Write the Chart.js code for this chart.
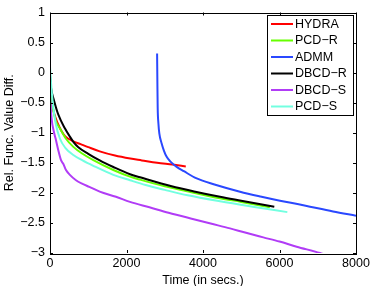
<!DOCTYPE html>
<html><head><meta charset="utf-8">
<script src="https://cdn.jsdelivr.net/npm/chart.js@4/dist/chart.umd.min.js"></script>
<style>html,body{margin:0;padding:0;background:#fff}#wrap{width:374px;height:286px}</style>
</head><body><div id="wrap"><canvas id="c" width="374" height="286"></canvas></div>
<script>
// ---- data (time in secs, relative function value difference) ----
const seriesNames = ["HYDRA", "PCD\u2212R", "ADMM", "DBCD\u2212R", "DBCD\u2212S", "PCD\u2212S"];
const seriesColors = ["#ff0000", "#66ff00", "#2a48ff", "#000000", "#b13cf6", "#72ffe0"];

const hydraT = [0, 50, 100, 200, 300, 400, 600, 800, 1000, 1300, 1700, 2100, 2400, 2800, 3200, 3550];
const hydraV = [-0.15, -0.5, -0.66, -0.84, -0.97, -1.06, -1.14, -1.19, -1.24, -1.31, -1.38, -1.43, -1.46, -1.50, -1.53, -1.56];

const pcdrT = [0, 30, 80, 150, 261, 418, 610, 850, 1133, 1656, 2091, 2353, 3000, 3500, 4444, 5000, 5750];
const pcdrV = [-0.1, -0.35, -0.6, -0.8, -0.93, -1.10, -1.235, -1.35, -1.456, -1.62, -1.73, -1.78, -1.89, -1.96, -2.09, -2.15, -2.24];

const admmT = [2800, 2808, 2815, 2835, 2858, 2919, 2980, 3050, 3150, 3312, 3500, 3835, 4300, 4967, 5500, 6013, 6500, 6797, 7400, 8000];
const admmV = [0.32, -0.2, -0.57, -0.85, -1.01, -1.18, -1.30, -1.40, -1.48, -1.568, -1.64, -1.76, -1.86, -1.98, -2.06, -2.13, -2.19, -2.23, -2.31, -2.38];

const dbcdrT = [0, 26, 100, 218, 392, 505, 610, 741, 1000, 1300, 1656, 2091, 2353, 3181, 3800, 4444, 5000, 5864];
const dbcdrV = [-0.05, -0.25, -0.45, -0.7, -0.93, -1.05, -1.15, -1.24, -1.35, -1.46, -1.57, -1.69, -1.74, -1.89, -1.98, -2.065, -2.13, -2.23];

const dbcdsT = [0, 40, 100, 157, 220, 288, 350, 418, 520, 680, 850, 1028, 1300, 1725, 2091, 2600, 3100, 3704, 4200, 4706, 5100, 5577, 6000, 6449, 7059, 7200];
const dbcdsV = [-0.35, -0.75, -0.98, -1.125, -1.30, -1.456, -1.52, -1.62, -1.70, -1.79, -1.85, -1.90, -1.98, -2.065, -2.15, -2.24, -2.33, -2.43, -2.51, -2.59, -2.66, -2.74, -2.81, -2.895, -3.0, -3.03];

const pcdsT = [0, 26, 80, 150, 261, 400, 610, 850, 1133, 1656, 2091, 2500, 3000, 3600, 4444, 5300, 6205];
const pcdsV = [0.1, -0.16, -0.55, -0.85, -1.10, -1.25, -1.37, -1.46, -1.55, -1.70, -1.79, -1.87, -1.95, -2.04, -2.14, -2.23, -2.32];

const xTicks = [0, 2000, 4000, 6000, 8000];
const yTicks = [1, 0.5, 0, -0.5, -1, -1.5, -2, -2.5, -3];
const xTitle = "Time (in secs.)";
const yTitle = "Rel. Func. Value Diff.";

const seriesT = [hydraT, pcdrT, admmT, dbcdrT, dbcdsT, pcdsT];
const seriesV = [hydraV, pcdrV, admmV, dbcdrV, dbcdsV, pcdsV];

const FONT = "Liberation Sans, Arial, Helvetica, sans-serif";
const fmt = v => (v < 0 ? "\u2212" : "") + String(Math.abs(v));

const datasets = seriesNames.map((name, i) => ({
  label: name,
  data: seriesT[i].map((t, k) => ({ x: t, y: seriesV[i][k] })),
  borderColor: seriesColors[i],
  backgroundColor: seriesColors[i],
  borderWidth: 2,
  pointRadius: 0,
  fill: false,
  cubicInterpolationMode: "monotone",
  order: seriesNames.length - i
}));

const frameAndTicks = {
  id: "frameAndTicks",
  afterDatasetsDraw(chart) {
    const { ctx, chartArea: a, scales: { x, y } } = chart;
    ctx.save();
    ctx.strokeStyle = "#000";
    ctx.lineWidth = 1;
    ctx.strokeRect(Math.round(a.left) + 0.5, Math.round(a.top) + 0.5, Math.round(a.right - a.left), Math.round(a.bottom - a.top));
    const L = 3;
    ctx.beginPath();
    xTicks.forEach(v => {
      const px = Math.round(x.getPixelForValue(v)) + 0.5;
      ctx.moveTo(px, a.bottom); ctx.lineTo(px, a.bottom - L);
      ctx.moveTo(px, a.top); ctx.lineTo(px, a.top + L);
    });
    yTicks.forEach(v => {
      const py = Math.round(y.getPixelForValue(v)) + 0.5;
      ctx.moveTo(a.left, py); ctx.lineTo(a.left + L, py);
      ctx.moveTo(a.right, py); ctx.lineTo(a.right - L, py);
    });
    ctx.stroke();
    // legend
    const bx = 267.5, by = 15.5, bw = 86, bh = 100;
    ctx.fillStyle = "#fff";
    ctx.fillRect(bx, by, bw, bh);
    ctx.strokeRect(bx, by, bw, bh);
    ctx.font = "12.5px " + FONT;
    ctx.textBaseline = "middle";
    ctx.textAlign = "left";
    seriesNames.forEach((n, i) => {
      const ry = 24 + i * 16.5;
      ctx.strokeStyle = seriesColors[i];
      ctx.lineWidth = 2;
      ctx.beginPath(); ctx.moveTo(271, ry); ctx.lineTo(293, ry); ctx.stroke();
      ctx.fillStyle = "#000";
      ctx.fillText(n, 295, ry + 0.5);
    });
    ctx.restore();
  }
};

new Chart(document.getElementById("c"), {
  type: "line",
  data: { datasets },
  options: {
    responsive: false,
    animation: false,
    devicePixelRatio: 1,
    layout: { padding: { left: 0, top: 12, right: 18, bottom: 0 } },
    plugins: { legend: { display: false }, tooltip: { enabled: false } },
    scales: {
      x: {
        type: "linear", min: 0, max: 8000,
        afterBuildTicks: s => { s.ticks = xTicks.map(v => ({ value: v })); },
        afterFit: s => { s.height = 33; },
        grid: { display: false, drawTicks: false },
        border: { display: false },
        ticks: { color: "#000", font: { size: 12.5, family: FONT }, padding: 3, maxRotation: 0, callback: v => fmt(v) },
        title: { display: true, text: xTitle, color: "#000", font: { size: 12.5, family: FONT }, padding: { top: 0, bottom: -2 } }
      },
      y: {
        type: "linear", min: -3, max: 1,
        afterBuildTicks: s => { s.ticks = yTicks.map(v => ({ value: v })); },
        afterFit: s => { s.width = 50; },
        grid: { display: false, drawTicks: false },
        border: { display: false },
        ticks: { color: "#000", font: { size: 12.5, family: FONT }, padding: 5, callback: v => fmt(v) },
        title: { display: true, text: yTitle, color: "#000", font: { size: 12.5, family: FONT }, padding: { top: 2, bottom: 0 } }
      }
    }
  },
  plugins: [frameAndTicks]
});
</script>
</body></html>
